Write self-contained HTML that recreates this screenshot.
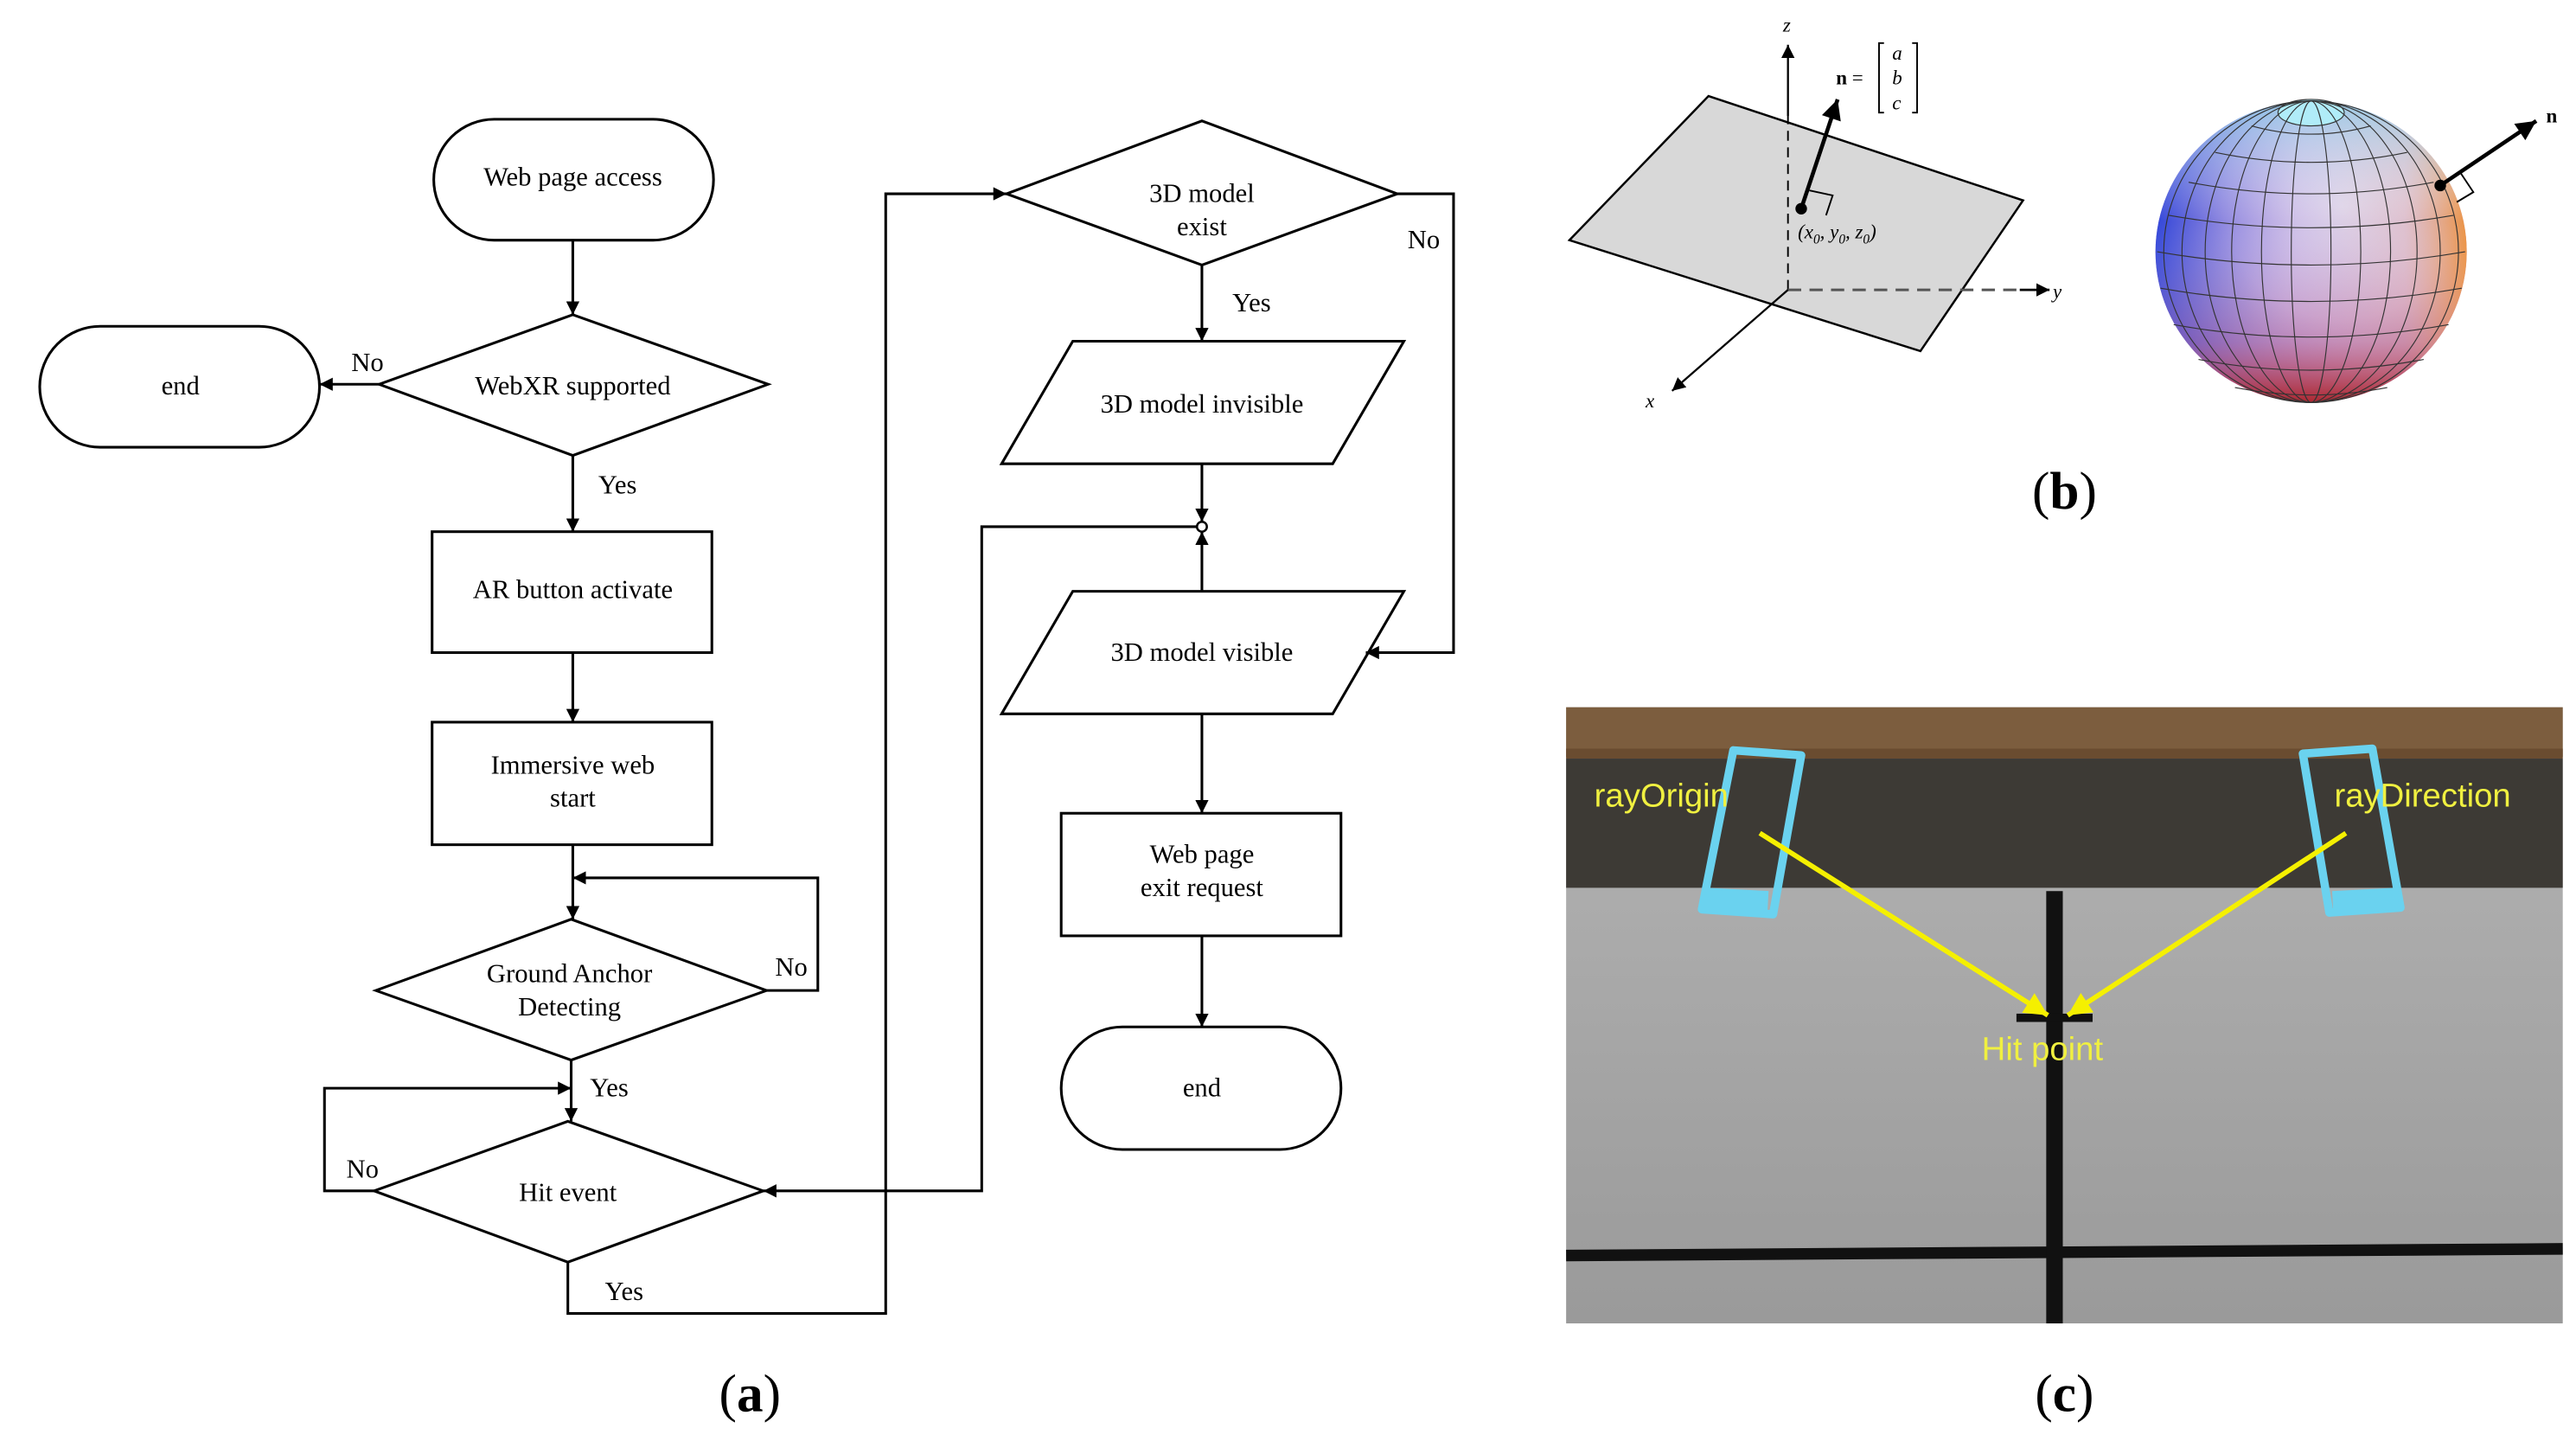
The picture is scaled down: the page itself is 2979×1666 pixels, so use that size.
<!DOCTYPE html>
<html><head><meta charset="utf-8"><style>
html,body{margin:0;padding:0;background:#fff;}
svg{display:block;}
text{font-family:"Liberation Serif",serif;}
</style></head><body>
<svg width="2979" height="1666" viewBox="0 0 1556 870" preserveAspectRatio="none" xmlns="http://www.w3.org/2000/svg">
<defs>
<marker id="a" viewBox="0 0 10 10" refX="10" refY="5" markerWidth="8" markerHeight="8" markerUnits="userSpaceOnUse" orient="auto"><path d="M0,0L10,5L0,10z" fill="#000"/></marker>
<marker id="b" viewBox="0 0 10 10" refX="10" refY="5" markerWidth="14" markerHeight="12" markerUnits="userSpaceOnUse" orient="auto"><path d="M0,0L10,5L0,10z" fill="#000"/></marker>
<marker id="y" viewBox="0 0 10 10" refX="10" refY="5" markerWidth="16" markerHeight="14" markerUnits="userSpaceOnUse" orient="auto"><path d="M0,0L10,5L0,10z" fill="#f5f000"/></marker>
<radialGradient id="sg" cx="0.6" cy="0.35" r="0.75">
<stop offset="0" stop-color="#e8e0f0"/><stop offset="0.5" stop-color="#c8a8d8"/><stop offset="1" stop-color="#7040a0"/></radialGradient>
<linearGradient id="sh" x1="0" y1="0" x2="1" y2="0">
<stop offset="0" stop-color="#2040e0" stop-opacity="0.85"/><stop offset="0.45" stop-color="#a0a0f0" stop-opacity="0.2"/><stop offset="0.8" stop-color="#f0c0a0" stop-opacity="0.3"/><stop offset="1" stop-color="#f09030" stop-opacity="0.9"/></linearGradient>
<linearGradient id="sv" x1="0" y1="0" x2="0" y2="1">
<stop offset="0" stop-color="#80e0f0" stop-opacity="0.6"/><stop offset="0.4" stop-color="#fff" stop-opacity="0"/><stop offset="0.8" stop-color="#e07080" stop-opacity="0.3"/><stop offset="1" stop-color="#b02020" stop-opacity="0.9"/></linearGradient>
<linearGradient id="wall" x1="0" y1="0" x2="0" y2="1"><stop offset="0" stop-color="#b4b4b4"/><stop offset="1" stop-color="#9a9a9a"/></linearGradient>
</defs>
<g fill="none" stroke="#000" stroke-width="1.6">
<rect x="262" y="72" width="169" height="73" rx="36.5" fill="#fff"/>
<rect x="24" y="197" width="169" height="73" rx="36.5" fill="#fff"/>
<polygon points="229,232 346,190 464,232 346,275" fill="#fff"/>
<rect x="261" y="321" width="169" height="73" fill="#fff"/>
<rect x="261" y="436" width="169" height="74" fill="#fff"/>
<polygon points="227,598 345,555 463,598 345,640" fill="#fff"/>
<polygon points="226,719 343,677 461,719 343,762" fill="#fff"/>
<polygon points="608,117 726,73 844,117 726,160" fill="#fff"/>
<polygon points="648,206 848,206 805,280 605,280" fill="#fff"/>
<polygon points="648,357 848,357 805,431 605,431" fill="#fff"/>
<rect x="641" y="491" width="169" height="74" fill="#fff"/>
<rect x="641" y="620" width="169" height="74" rx="37" fill="#fff"/>
<path d="M346,145V190" marker-end="url(#a)"/>
<path d="M229,232H193" marker-end="url(#a)"/>
<path d="M346,275V321" marker-end="url(#a)"/>
<path d="M346,394V436" marker-end="url(#a)"/>
<path d="M346,510V555" marker-end="url(#a)"/>
<path d="M463,598H494V530H346" marker-end="url(#a)"/>
<path d="M345,640V677" marker-end="url(#a)"/>
<path d="M226,719H196V657H345" marker-end="url(#a)"/>
<path d="M343,762V793H535V117H608" marker-end="url(#a)"/>
<path d="M844,117H878V394H825" marker-end="url(#a)"/>
<path d="M726,160V206" marker-end="url(#a)"/>
<path d="M726,280V315" marker-end="url(#a)"/>
<path d="M726,357V321" marker-end="url(#a)"/>
<path d="M723,318H593V719H461" marker-end="url(#a)"/>
<path d="M726,431V491" marker-end="url(#a)"/>
<path d="M726,565V620" marker-end="url(#a)"/>
<circle cx="726" cy="318" r="3" fill="#fff" stroke-width="1.3"/>
</g>
<g font-size="16" text-anchor="middle" fill="#000">
<text x="346" y="112">Web page access</text>
<text x="109" y="238">end</text>
<text x="346" y="238">WebXR supported</text>
<text x="346" y="361">AR button activate</text>
<text x="346" y="467">Immersive web</text><text x="346" y="487">start</text>
<text x="344" y="593">Ground Anchor</text><text x="344" y="613">Detecting</text>
<text x="343" y="725">Hit event</text>
<text x="726" y="122">3D model</text><text x="726" y="142">exist</text>
<text x="726" y="249">3D model invisible</text>
<text x="726" y="399">3D model visible</text>
<text x="726" y="521">Web page</text><text x="726" y="541">exit request</text>
<text x="726" y="662">end</text>
<text x="222" y="224">No</text>
<text x="373" y="298">Yes</text>
<text x="478" y="589">No</text>
<text x="368" y="662">Yes</text>
<text x="219" y="711">No</text>
<text x="377" y="785">Yes</text>
<text x="860" y="150">No</text>
<text x="756" y="188">Yes</text>
</g>
<g font-size="32" text-anchor="middle" fill="#000">
<text x="453" y="852">(<tspan font-weight="bold">a</tspan>)</text>
<text x="1247" y="307">(<tspan font-weight="bold">b</tspan>)</text>
<text x="1247" y="852">(<tspan font-weight="bold">c</tspan>)</text>
</g>
<!-- (b) plane -->
<polygon points="948,145 1032,58 1222,121 1160,212" fill="#d8d8d8" stroke="#000" stroke-width="1.3"/>
<g stroke="#000" fill="none">
<path d="M1080,175V70" stroke-dasharray="6,4" stroke-width="1"/>
<path d="M1080,70V27" stroke-width="1.2" marker-end="url(#a)"/>
<path d="M1080,175H1220" stroke-dasharray="8,5" stroke-width="1.6" stroke="#555"/>
<path d="M1220,175H1238" stroke-width="1.4" marker-end="url(#a)"/>
<path d="M1080,175L1010,236" stroke-width="1.2" marker-end="url(#a)"/>
<path d="M1088,126L1110,60" stroke-width="2.4" marker-end="url(#b)"/>
<path d="M1093,115L1107,118L1103,130" stroke-width="1"/>
<path d="M1138,26h-3v42h3M1155,26h3v42h-3" stroke-width="1"/>
</g>
<circle cx="1088" cy="126" r="3.5"/>
<g font-size="12" font-style="italic" fill="#000">
<text x="1077" y="19">z</text><text x="1240" y="180">y</text><text x="994" y="246">x</text>
<text x="1086" y="144">(x<tspan font-size="8" dy="3">0</tspan><tspan dy="-3">, y</tspan><tspan font-size="8" dy="3">0</tspan><tspan dy="-3">, z</tspan><tspan font-size="8" dy="3">0</tspan><tspan dy="-3">)</tspan></text>
<text x="1143" y="36">a</text><text x="1143" y="51">b</text><text x="1143" y="66">c</text>
<text x="1109" y="51" font-style="normal" font-weight="bold">n <tspan font-weight="normal">=</tspan></text>
<text x="1538" y="74" font-style="normal" font-weight="bold">n</text>
</g>
<!-- sphere -->
<g>
<ellipse cx="1396" cy="152" rx="94" ry="91" fill="url(#sg)"/>
<ellipse cx="1396" cy="152" rx="94" ry="91" fill="url(#sh)"/>
<ellipse cx="1396" cy="152" rx="94" ry="91" fill="url(#sv)"/>
<ellipse cx="1396" cy="68" rx="20" ry="8" fill="#b0ecf8" stroke="#333" stroke-width="0.6"/>
<g fill="none" stroke="#333" stroke-width="0.6">
<ellipse cx="1396" cy="152" rx="12" ry="91"/><ellipse cx="1396" cy="152" rx="30" ry="91"/><ellipse cx="1396" cy="152" rx="48" ry="91"/><ellipse cx="1396" cy="152" rx="64" ry="91"/><ellipse cx="1396" cy="152" rx="78" ry="91"/><ellipse cx="1396" cy="152" rx="89" ry="91"/>
<path d="M1360,76Q1396,86 1432,76M1338,92Q1396,104 1454,92M1322,110Q1396,124 1470,110M1310,130Q1396,145 1482,130M1303,152Q1396,168 1489,152M1305,174Q1396,190 1487,174M1313,196Q1396,211 1479,196M1328,217Q1396,230 1464,217M1350,234Q1396,243 1442,234"/>
</g>
<path d="M1474,112L1532,73" stroke="#000" stroke-width="2.4" marker-end="url(#b)"/>
<path d="M1486,104l8,12l-10,6" stroke="#000" stroke-width="1" fill="none"/>
<circle cx="1474" cy="112" r="3.5"/>
</g>
<!-- (c) photo -->
<rect x="946" y="427" width="602" height="372" fill="url(#wall)"/>
<rect x="946" y="427" width="602" height="30" fill="#7c5d3e"/>
<rect x="946" y="452" width="602" height="6" fill="#6a4c30"/>
<rect x="946" y="458" width="602" height="78" fill="#3d3a35"/>
<path d="M946,758L1548,754" stroke="#111" stroke-width="7"/>
<rect x="1236" y="538" width="10" height="261" fill="#111"/>
<rect x="1218" y="612" width="46" height="5" fill="#111"/>
<g fill="none" stroke="#6ad2ef" stroke-width="5">
<path d="M1047,453L1088,456L1071,552L1028,549Z" stroke-linejoin="round"/>
<path d="M1391,455L1433,452L1450,548L1407,551Z" stroke-linejoin="round"/>
</g>
<rect x="1031" y="537" width="37" height="12" fill="#6ad2ef" transform="rotate(3 1050 543)"/>
<rect x="1409" y="537" width="38" height="12" fill="#6ad2ef" transform="rotate(-3 1428 543)"/>
<g stroke="#f5f000" stroke-width="3">
<path d="M1063,503L1237,613" marker-end="url(#y)"/>
<path d="M1417,503L1249,613" marker-end="url(#y)"/>
</g>
<g font-family="Liberation Sans, sans-serif" font-size="20" fill="#f0f040">
<text x="963" y="487" style="font-family:'Liberation Sans',sans-serif">rayOrigin</text>
<text x="1410" y="487" style="font-family:'Liberation Sans',sans-serif">rayDirection</text>
<text x="1197" y="640" style="font-family:'Liberation Sans',sans-serif">Hit point</text>
</g>
</svg>
</body></html>
